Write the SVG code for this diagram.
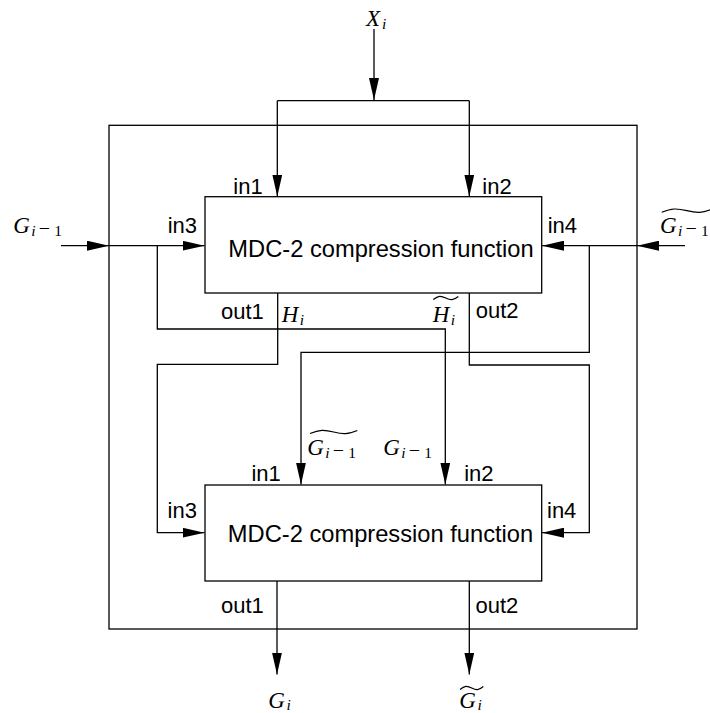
<svg xmlns="http://www.w3.org/2000/svg" width="710" height="713" viewBox="0 0 710 713">
<style>
.ln{fill:none;stroke:#000;stroke-width:1.3}
.box{fill:#fff;stroke:#000;stroke-width:1.3}
.lbl{font-family:"Liberation Sans",Arial,sans-serif;font-size:22px;fill:#000}
.big{font-size:23.7px}
.m{font-family:"Liberation Serif","Times New Roman",serif;font-style:italic;font-size:23px;fill:#000}
.s{font-family:"Liberation Serif","Times New Roman",serif;font-size:15.5px;fill:#000}
.si{font-style:italic}
.mn{font-family:"Liberation Serif","Times New Roman",serif;font-size:20px;fill:#000}
.tl{fill:none;stroke:#000;stroke-width:1.2}
</style>
<defs>
<marker id="ah" viewBox="0 0 22 10" refX="22" refY="5" markerWidth="22" markerHeight="10" markerUnits="userSpaceOnUse" orient="auto">
<path d="M0,0 L22,5 L0,10 z" fill="#000"/>
</marker>
</defs>
<rect id="outer" x="109" y="125.3" width="528" height="503.7" class="ln"/>
<g id="connectors">
<path class="ln" d="M374,29 V100" marker-end="url(#ah)"/>
<path class="ln" d="M277.3,100.7 H469.3"/>
<path class="ln" d="M277.3,100.7 V196.5" marker-end="url(#ah)"/>
<path class="ln" d="M469.3,100.7 V196.5" marker-end="url(#ah)"/>
<path class="ln" d="M61,245.7 H109" marker-end="url(#ah)"/>
<path class="ln" d="M109,245.7 H204.5" marker-end="url(#ah)"/>
<path class="ln" d="M157.3,245.7 V329 H445.3 V484.5" marker-end="url(#ah)"/>
<path class="ln" d="M685,245.7 H637" marker-end="url(#ah)"/>
<path class="ln" d="M637,245.7 H542" marker-end="url(#ah)"/>
<path class="ln" d="M589.3,245.7 V352.3 H301 V484.5" marker-end="url(#ah)"/>
<path class="ln" d="M277.7,293 V364.3 H157.3 V532.7 H204.5" marker-end="url(#ah)"/>
<path class="ln" d="M469.3,293 V365 H589.3 V532.7 H542" marker-end="url(#ah)"/>
<path class="ln" d="M277,581 V674.5" marker-end="url(#ah)"/>
<path class="ln" d="M469.3,581 V674.5" marker-end="url(#ah)"/>
</g>
<g id="box1">
<rect class="box" x="205" y="196.7" width="336.7" height="96.3"/>
<text class="lbl big" x="228.3" y="257.3">MDC-2 compression function</text>
<text class="lbl" x="233.3" y="194">in1</text>
<text class="lbl" x="482.3" y="194">in2</text>
<text class="lbl" x="167.7" y="233.3">in3</text>
<text class="lbl" x="547.7" y="232.7">in4</text>
<text class="lbl" x="221" y="319">out1</text>
<text class="lbl" x="475.7" y="318.3">out2</text>
</g>
<g id="box2">
<rect class="box" x="205" y="485" width="336.7" height="96"/>
<text class="lbl big" x="227.8" y="541.7">MDC-2 compression function</text>
<text class="lbl" x="251.4" y="480.7">in1</text>
<text class="lbl" x="464.2" y="480.7">in2</text>
<text class="lbl" x="167.6" y="518.3">in3</text>
<text class="lbl" x="547" y="518.3">in4</text>
<text class="lbl" x="221" y="612.7">out1</text>
<text class="lbl" x="475.5" y="612.7">out2</text>
</g>
<g id="X_i">
<text class="m" x="366" y="26">X</text><text class="s si" x="382" y="28.5">i</text>
</g>
<g id="G_im1_left">
<text class="m" x="13.3" y="233.3">G</text><text class="s si" x="31.3" y="235.8">i</text><text class="mn" x="38.8" y="235.3">−</text><text class="s" x="54.3" y="235.8">1</text>
</g>
<g id="Gt_im1_right">
<text class="m" x="660" y="233.3">G</text><text class="s si" x="678" y="235.8">i</text><text class="mn" x="685.5" y="235.3">−</text><text class="s" x="701" y="235.8">1</text>
<path class="tl" d="M661.7,212.2 C671.8,208.2 676.8,208.2 686.9,210.7 S702,213.2 712,209.2"/>
</g>
<g id="H_i">
<text class="m" x="281.7" y="322.3">H</text><text class="s si" x="299.8" y="325">i</text>
</g>
<g id="Ht_i">
<text class="m" x="432.7" y="322.3">H</text><text class="s si" x="450.8" y="325">i</text>
<path class="tl" d="M433.3,299.5 C438.3,295.5 440.8,295.5 445.8,298 S453.3,300.5 458.3,296.5"/>
</g>
<g id="Gt_im1_bottom">
<text class="m" x="307.3" y="455">G</text><text class="s si" x="325.3" y="457.5">i</text><text class="mn" x="332.8" y="457">−</text><text class="s" x="348.3" y="457.5">1</text>
<path class="tl" d="M310,433.5 C319.5,429.5 324.2,429.5 333.7,432 S347.8,434.5 357.3,430.5"/>
</g>
<g id="G_im1_bottom">
<text class="m" x="383.3" y="455">G</text><text class="s si" x="401.3" y="457.5">i</text><text class="mn" x="408.8" y="457">−</text><text class="s" x="424.3" y="457.5">1</text>
</g>
<g id="G_i">
<text class="m" x="268.3" y="707.5">G</text><text class="s si" x="286.5" y="710">i</text>
</g>
<g id="Gt_i">
<text class="m" x="459.3" y="707.5">G</text><text class="s si" x="477.5" y="710">i</text>
<path class="tl" d="M460,689.5 C464.7,685.5 467,685.5 471.7,688 S478.6,690.5 483.3,686.5"/>
</g>
</svg>
